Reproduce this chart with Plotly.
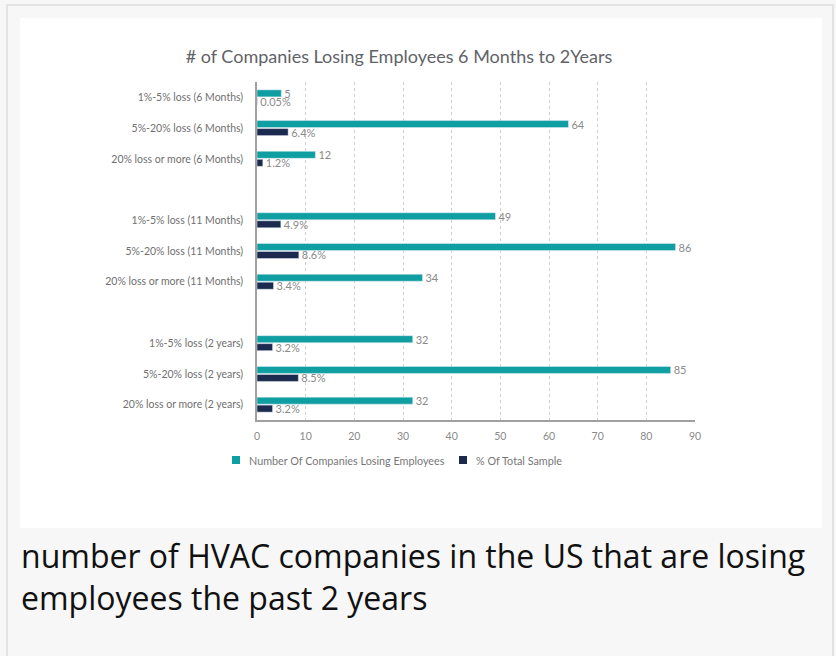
import plotly.graph_objects as go

categories = [
    "1%-5% loss (6 Months)", "5%-20% loss (6 Months)", "20% loss or more (6 Months)", " ",
    "1%-5% loss (11 Months)", "5%-20% loss (11 Months)", "20% loss or more (11 Months)", "  ",
    "1%-5% loss (2 years)", "5%-20% loss (2 years)", "20% loss or more (2 years)",
]
companies = [5, 64, 12, None, 49, 86, 34, None, 32, 85, 32]
pct_sample = [0.05, 6.4, 1.2, None, 4.9, 8.6, 3.4, None, 3.2, 8.5, 3.2]
pct_labels = ["0.05%", "6.4%", "1.2%", "", "4.9%", "8.6%", "3.4%", "", "3.2%", "8.5%", "3.2%"]
company_labels = ["" if v is None else str(v) for v in companies]
series_names = ["Number Of Companies Losing Employees", "% Of Total Sample"]

title = "# of Companies Losing Employees 6 Months to 2Years"
caption = "number of HVAC companies in the US that are losing<br>employees the past 2 years"

TEAL = "#0f9ea1"
NAVY = "#1b2a4e"
FONT = "Lato, 'Open Sans', sans-serif"

fig = go.Figure()
fig.add_trace(go.Bar(
    name=series_names[0], y=categories, x=companies,
    orientation="h", marker_color=TEAL, text=company_labels, textposition="outside",
    constraintext="none",
    textfont=dict(family=FONT, size=11, color="#8a8a8a"), cliponaxis=False,
))
fig.add_trace(go.Bar(
    name=series_names[1], y=categories, x=pct_sample,
    orientation="h", marker_color=NAVY, text=pct_labels, textposition="outside",
    constraintext="none",
    textfont=dict(family=FONT, size=11, color="#8a8a8a"), cliponaxis=False,
))

L, R, T, B = 257, 695, 82, 420
W, H = R - L, B - T

def px(x):
    return (x - L) / W

def py(y):
    return (B - y) / H

shapes = [
    dict(type="rect", xref="paper", yref="paper", x0=px(20), x1=px(822), y0=py(528), y1=py(18),
         fillcolor="white", line_width=0, layer="below"),
    dict(type="line", xref="paper", yref="paper", x0=px(6), x1=px(834), y0=py(5), y1=py(5),
         line=dict(color="#e3e3e3", width=2), layer="below"),
    dict(type="line", xref="paper", yref="paper", x0=px(7), x1=px(7), y0=py(656), y1=py(5),
         line=dict(color="#e3e3e3", width=2), layer="below"),
    dict(type="line", xref="paper", yref="paper", x0=px(833), x1=px(833), y0=py(656), y1=py(5),
         line=dict(color="#e3e3e3", width=2), layer="below"),
]

annotations = [dict(text=caption, xref="paper", yref="paper", x=px(19), y=py(532),
                    xanchor="left", yanchor="top", align="left", showarrow=False,
                    font=dict(family="'Open Sans', sans-serif", size=32, color="#111"))]

# legend drawn as swatches + text, below the axis
legend_items = [(series_names[0], TEAL, 232, 247), (series_names[1], NAVY, 459, 474)]
for name, color, sx, tx in legend_items:
    shapes.append(dict(type="rect", xref="paper", yref="paper", x0=px(sx), x1=px(sx + 8),
                       y0=py(464), y1=py(456), fillcolor=color, line_width=0))
    annotations.append(dict(text=name, xref="paper", yref="paper", x=px(tx), y=py(460),
                            xanchor="left", yanchor="middle", showarrow=False,
                            font=dict(family=FONT, size=10.8, color="#777")))

fig.update_layout(
    width=836, height=656,
    margin=dict(l=L, r=836 - R, t=T, b=656 - B),
    paper_bgcolor="#f7f7f7", plot_bgcolor="white",
    barmode="group", bargap=0.48, bargroupgap=0.12,
    shapes=shapes,
    title=dict(text=title, xref="container", x=399 / 836, xanchor="center",
               y=1 - 57 / 656, yanchor="middle",
               font=dict(family=FONT, size=18, color="#5f6368")),
    showlegend=False,
    annotations=annotations,
)
fig.update_xaxes(range=[0, 90], dtick=10, showgrid=True, gridcolor="#cfcfcf", griddash="3px,3px",
                 gridwidth=1, showline=True, linecolor="#a0a0a0", linewidth=1.5, zeroline=False,
                 tickfont=dict(family=FONT, size=10.5, color="#8a8a8a"), ticks="", ticklabelstandoff=6)
fig.update_yaxes(autorange="reversed", showline=True, linecolor="#a0a0a0", linewidth=1.5,
                 showgrid=False, ticks="", tickfont=dict(family=FONT, size=10.5, color="#707070"),
                 ticklabelstandoff=10)

fig.write_html("out.html")
